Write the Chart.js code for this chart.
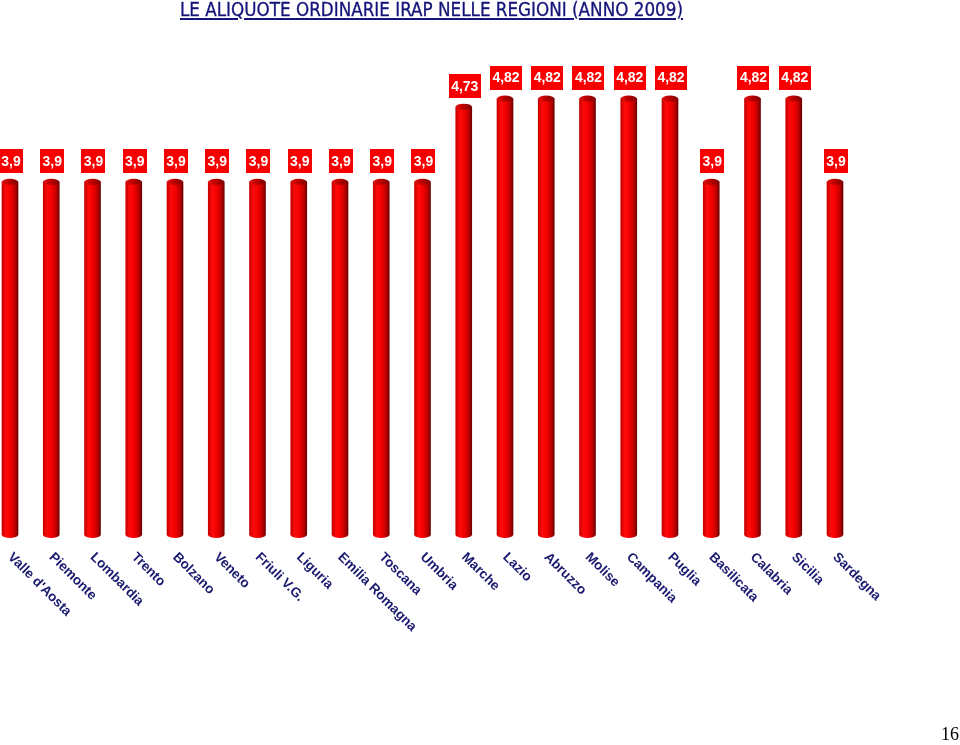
<!DOCTYPE html>
<html><head><meta charset="utf-8">
<script src="https://cdn.jsdelivr.net/npm/chart.js@4/dist/chart.umd.min.js"></script>
<style>
html,body{margin:0;padding:0;background:#fff;}
#wrap{position:relative;width:960px;height:745px;overflow:hidden;background:#fff;}
#title{position:absolute;left:180px;top:-2px;font-family:"DejaVu Sans Condensed","DejaVu Sans",sans-serif;font-size:20px;color:#14147a;text-decoration:underline;text-decoration-thickness:2px;text-underline-offset:2px;white-space:nowrap;transform-origin:0 0;line-height:23px;z-index:2;-webkit-text-stroke:0.3px #14147a;}
#page{position:absolute;left:941px;top:725px;font-family:"Liberation Serif","Times New Roman",serif;font-size:18px;line-height:18px;color:#000;z-index:2;}
canvas{position:absolute;left:0;top:0;}
</style></head>
<body><div id="wrap"><div id="title">LE ALIQUOTE ORDINARIE IRAP NELLE REGIONI (ANNO 2009)</div><canvas id="c" width="960" height="745"></canvas><div id="page">16</div></div>
<script>
const regions = ["Valle d'Aosta","Piemonte","Lombardia","Trento","Bolzano","Veneto","Friuli V.G.","Liguria","Emilia Romagna","Toscana","Umbria","Marche","Lazio","Abruzzo","Molise","Campania","Puglia","Basilicata","Calabria","Sicilia","Sardegna"];
const rates = [3.9,3.9,3.9,3.9,3.9,3.9,3.9,3.9,3.9,3.9,3.9,4.73,4.82,4.82,4.82,4.82,4.82,3.9,4.82,4.82,3.9];
const yMin = 0;
const yMax = 5.5;

(function(){
  const t = document.getElementById('title');
  const w = t.getBoundingClientRect().width;
  const target = 503;
  t.style.transform = 'scaleX(' + (target / w) + ')';
})();

function bodyGradient(ctx, cx, half) {
  const g = ctx.createLinearGradient(cx - half, 0, cx + half, 0);
  g.addColorStop(0, '#c80000');
  g.addColorStop(0.25, '#ff0a0a');
  g.addColorStop(0.55, '#f00000');
  g.addColorStop(0.8, '#c00000');
  g.addColorStop(1, '#700000');
  return g;
}

const cylinderPlugin = {
  id: 'cylinder',
  afterDatasetsDraw(chart) {
    const ctx = chart.ctx;
    const meta = chart.getDatasetMeta(0);
    meta.data.forEach((bar, i) => {
      const p = bar.getProps(['x', 'y', 'base', 'width'], true);
      const rx = p.width / 2, ry = 3;
      ctx.save();
      ctx.fillStyle = bodyGradient(ctx, p.x, rx);
      ctx.beginPath();
      ctx.ellipse(p.x, p.base, rx, ry, 0, 0, Math.PI);
      ctx.fill();
      const g = ctx.createLinearGradient(p.x - rx, 0, p.x + rx, 0);
      g.addColorStop(0, '#e01010');
      g.addColorStop(0.4, '#c00000');
      g.addColorStop(1, '#800000');
      ctx.fillStyle = g;
      ctx.beginPath();
      ctx.ellipse(p.x, p.y, rx, ry, 0, 0, Math.PI * 2);
      ctx.fill();
      ctx.restore();

      const txt = String(rates[i]).replace('.', ',');
      ctx.save();
      ctx.font = 'bold 14px "Liberation Sans", Arial, sans-serif';
      const tw = ctx.measureText(txt).width;
      const bw = tw + 5, bh = 24;
      const bottom = p.y - ry - 6;
      const cx = p.x + 1;
      ctx.fillStyle = '#f80000';
      ctx.fillRect(Math.round(cx - bw / 2), Math.round(bottom - bh), Math.round(bw), bh);
      ctx.fillStyle = '#ffffff';
      ctx.textAlign = 'center';
      ctx.textBaseline = 'middle';
      ctx.fillText(txt, cx, bottom - bh / 2 + 1);
      ctx.restore();
    });
  },
  afterDraw(chart) {
    const ctx = chart.ctx;
    const xs = chart.scales.x;
    ctx.save();
    ctx.font = 'bold 13.5px "Liberation Sans", Arial, sans-serif';
    ctx.fillStyle = '#1a1a70';
    ctx.textAlign = 'left';
    ctx.textBaseline = 'middle';
    regions.forEach((r, i) => {
      const x = xs.getPixelForValue(i);
      ctx.save();
      ctx.translate(x, 555);
      ctx.rotate(Math.PI / 4);
      ctx.fillText(r, 0, 0);
      ctx.restore();
    });
    ctx.restore();
  }
};

new Chart(document.getElementById('c'), {
  type: 'bar',
  data: {
    labels: regions,
    datasets: [{
      data: rates,
      borderWidth: 0,
      barThickness: 16,
      clip: false,
      backgroundColor: (c) => {
        const chart = c.chart;
        const xs = chart.scales && chart.scales.x;
        if (!xs || !chart.chartArea || c.dataIndex === undefined) return '#e00000';
        const cx = xs.getPixelForValue(c.dataIndex);
        return bodyGradient(chart.ctx, cx, 8);
      }
    }]
  },
  options: {
    responsive: false,
    devicePixelRatio: 1,
    animation: false,
    layout: { padding: { left: 10, right: 125, top: 37, bottom: 210 } },
    plugins: { legend: { display: false }, tooltip: { enabled: false }, title: { display: false } },
    scales: {
      x: { display: false, offset: false, grid: { display: false } },
      y: { display: false, min: yMin, max: yMax, grid: { display: false } }
    }
  },
  plugins: [cylinderPlugin]
});
</script>
</body></html>
